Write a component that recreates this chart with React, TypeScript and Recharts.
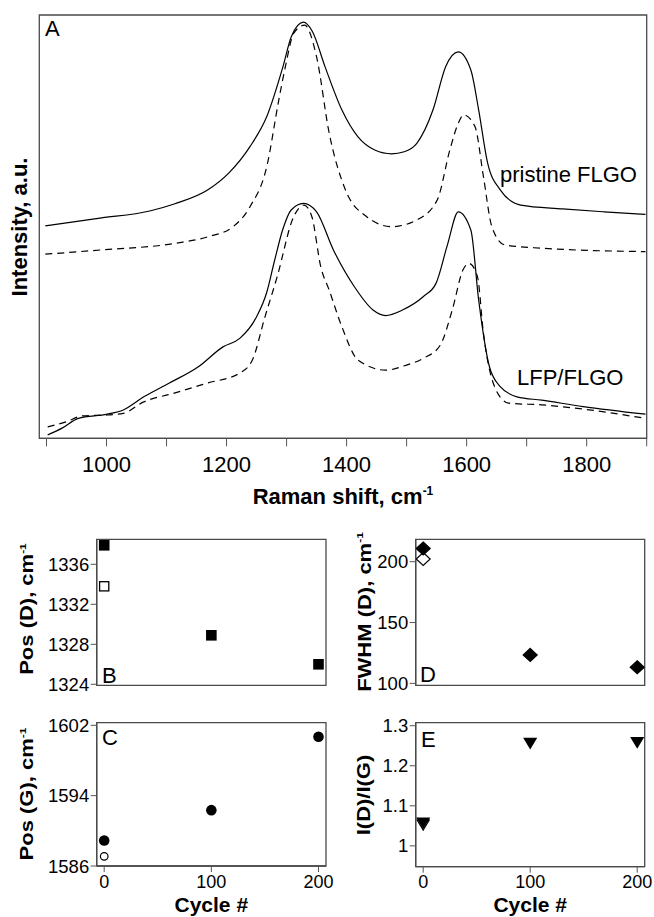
import React from "react"
import { LineChart, Line, ScatterChart, Scatter, XAxis, YAxis, ReferenceArea } from "recharts"

const FONT = '"Liberation Sans", Arial, Helvetica, sans-serif'
const FRAME = "#4a4a4a"
const TICK = "#555"

// panel A spectra: [Raman shift cm-1, intensity a.u.]
const pristineSolid = [
  [898, 50.2], [989, 52.0], [1072, 53.7], [1114, 55.4], [1169, 58.7], [1204, 62.7],
  [1239, 68.9], [1267, 76.0], [1294, 87.8], [1308, 94.9], [1328, 98.3], [1343, 96.1],
  [1364, 87.8], [1392, 77.6], [1419, 71.2], [1447, 68.1], [1475, 67.2], [1496, 67.7],
  [1517, 69.7], [1544, 77.6], [1565, 87.8], [1586, 91.3], [1607, 87.0], [1620, 77.6],
  [1635, 65.0], [1656, 58.7], [1690, 55.1], [1760, 54.2], [1829, 53.5], [1898, 52.9],
]
const pristineDashed = [
  [898, 43.5], [991, 44.5], [1117, 46.1], [1169, 47.6], [1211, 50.0], [1239, 54.7],
  [1267, 64.2], [1287, 79.9], [1298, 87.8], [1312, 95.7], [1330, 97.6], [1350, 90.1],
  [1371, 72.1], [1398, 58.7], [1433, 52.4], [1475, 50.0], [1517, 51.6], [1551, 56.3],
  [1572, 68.1], [1586, 74.4], [1595, 76.4], [1614, 73.6], [1628, 61.8], [1642, 50.0],
  [1663, 45.7], [1725, 44.9], [1898, 44.1],
]
const lfpSolid = [
  [902, 0.8], [926, 2.4], [953, 4.7], [1001, 5.7], [1028, 6.7], [1062, 9.8],
  [1104, 13.0], [1153, 16.9], [1194, 21.6], [1222, 23.6], [1250, 28.7], [1267, 34.5],
  [1280, 42.0], [1294, 49.5], [1308, 54.0], [1328, 55.5], [1350, 53.5], [1378, 44.5],
  [1413, 35.8], [1444, 30.3], [1465, 29.0], [1493, 30.3], [1528, 33.5], [1549, 36.6],
  [1568, 45.7], [1586, 53.5], [1607, 49.2], [1620, 32.7], [1638, 16.9], [1656, 12.2],
  [1684, 9.8], [1725, 9.0], [1794, 7.5], [1898, 5.7],
]
const lfpDashed = [
  [902, 2.7], [933, 3.9], [960, 5.3], [1001, 5.5], [1028, 5.9], [1062, 8.6],
  [1111, 10.6], [1167, 13.0], [1222, 15.4], [1243, 18.5], [1264, 28.7], [1284, 38.0],
  [1312, 52.4], [1329, 55.1], [1342, 52.4], [1357, 40.5], [1371, 35.0], [1392, 26.4],
  [1419, 18.5], [1465, 16.1], [1500, 17.3], [1528, 18.9], [1556, 22.0], [1576, 30.3],
  [1594, 39.8], [1604, 41.3], [1618, 38.2], [1628, 24.8], [1649, 11.4], [1670, 8.3],
  [1725, 7.9], [1794, 6.9], [1898, 4.7],
]
const shiftTicks = [900, 1000, 1100, 1200, 1300, 1400, 1500, 1600, 1700, 1800, 1900]

// panels B-E: fitted peak parameters vs cycle number
const cycles = [0, 100, 200]
const posD = [1337.9, 1328.9, 1326.0]
const posDPristine = [1333.8]
const posG = [1588.9, 1592.35, 1600.7]
const posGPristine = [1587.1]
const fwhmD = [210.8, 123.4, 113.2]
const fwhmDPristine = [202.2]
const ratioDG = [1.057, 1.256, 1.258]
const ratioDGPristine = [1.052]

const cycleTicks = [0, 100, 200]
const posDTicks = [1324, 1328, 1332, 1336]
const posGTicks = [1586, 1594, 1602]
const fwhmTicks = [100, 150, 200]
const ratioTicks = [1, 1.1, 1.2, 1.3]

const shiftDomain = [888, 1900]
const cycleDomain = [-7, 207]

const pts = (rows: number[][]) => rows.map(([x, y]) => ({ x, y }))
const byCycle = (vals: number[]) => vals.map((y, i) => ({ x: cycles[i], y }))

const tickFont = { fill: "#000", fontSize: 18.5, fontFamily: FONT }
const xTickFont = { fill: "#000", fontSize: 18, fontFamily: FONT }
const axisLine = { stroke: FRAME, strokeWidth: 1.3 }

const square = (filled: boolean) => (p: any) =>
  filled ? (
    <rect x={p.cx - 5.3} y={p.cy - 5.3} width={10.6} height={10.6} fill="#000" />
  ) : (
    <rect x={p.cx - 4.6} y={p.cy - 4.6} width={9.2} height={9.2} fill="#fff" stroke="#000" strokeWidth={1.3} />
  )

const circle = (filled: boolean) => (p: any) =>
  filled ? (
    <circle cx={p.cx} cy={p.cy} r={5.3} fill="#000" />
  ) : (
    <circle cx={p.cx} cy={p.cy} r={3.8} fill="#fff" stroke="#000" strokeWidth={1.2} />
  )

const diamond = (filled: boolean) => (p: any) => (
  <polygon
    points={`${p.cx},${p.cy - 6.5} ${p.cx + 7},${p.cy} ${p.cx},${p.cy + 6.5} ${p.cx - 7},${p.cy}`}
    fill={filled ? "#000" : "#fff"}
    stroke="#000"
    strokeWidth={1.2}
  />
)

const triangleDown = (filled: boolean) => (p: any) => (
  <polygon
    points={`${p.cx - 6},${p.cy - 5} ${p.cx + 6},${p.cy - 5} ${p.cx},${p.cy + 5}`}
    fill={filled ? "#000" : "#fff"}
    stroke="#000"
    strokeWidth={1.2}
  />
)

function VLabel({ x, y, squeeze = 1, children }: any) {
  return (
    <text
      transform={`translate(${x},${y}) rotate(-90) scale(1,${squeeze})`}
      textAnchor="middle"
      fontFamily={FONT}
      fontWeight="bold"
      fontSize={22}
      fill="#000"
    >
      {children}
    </text>
  )
}

const Sup = ({ children }: any) => (
  <tspan dy={-9} fontSize={12}>
    {children}
  </tspan>
)

function Panel({ left, top, width, height, margin, yDomain, yTicks, yWidth, yFormat, showX, series }: any) {
  return (
    <div style={{ position: "absolute", left, top }}>
      <ScatterChart width={width} height={height} margin={margin}>
        <XAxis
          dataKey="x"
          type="number"
          domain={cycleDomain}
          ticks={cycleTicks}
          interval={0}
          height={showX ? 40 : 0}
          tick={showX ? xTickFont : false}
          tickLine={showX ? { stroke: TICK } : false}
          tickSize={6}
          tickMargin={3}
          axisLine={axisLine}
          allowDataOverflow
        />
        <YAxis
          dataKey="y"
          type="number"
          domain={yDomain}
          ticks={yTicks}
          interval={0}
          width={yWidth}
          tick={tickFont}
          tickFormatter={yFormat}
          tickLine={{ stroke: TICK }}
          tickSize={6}
          tickMargin={1.5}
          axisLine={axisLine}
          allowDataOverflow
        />
        <ReferenceArea
          x1={cycleDomain[0]} x2={cycleDomain[1]} y1={yDomain[0]} y2={yDomain[1]}
          fill="none" fillOpacity={0} stroke={FRAME} strokeWidth={1.3} ifOverflow="visible"
        />
        {series.map((s: any, i: number) => (
          <Scatter key={i} data={s.data} shape={s.shape} isAnimationActive={false} />
        ))}
      </ScatterChart>
    </div>
  )
}

export default function App() {
  return (
    <div style={{ position: "absolute", left: 0, top: 0, width: 654, height: 917, background: "#fff", fontFamily: FONT }}>
      <div style={{ position: "absolute", left: 0, top: 0 }}>
        <LineChart width={654} height={520} margin={{ top: 15, right: 7.3, left: 39.3, bottom: 11.7 }}>
          <XAxis
            dataKey="x"
            type="number"
            domain={shiftDomain}
            ticks={shiftTicks}
            interval={0}
            height={70}
            tickFormatter={(v: number) => (v % 200 === 0 ? String(v) : "")}
            tick={{ fill: "#000", fontSize: 22, fontFamily: FONT }}
            tickLine={{ stroke: TICK }}
            tickSize={8}
            tickMargin={10}
            axisLine={axisLine}
            allowDataOverflow
          />
          <YAxis type="number" domain={[0, 100]} width={0} tick={false} tickLine={false} axisLine={axisLine} />
          <ReferenceArea
            x1={shiftDomain[0]} x2={shiftDomain[1]} y1={0} y2={100}
            fill="none" fillOpacity={0} stroke={FRAME} strokeWidth={1.3} ifOverflow="visible"
          />
          <Line data={pts(pristineSolid)} dataKey="y" type="monotone" stroke="#000" strokeWidth={1.2} dot={false} isAnimationActive={false} />
          <Line data={pts(pristineDashed)} dataKey="y" type="monotone" stroke="#000" strokeWidth={1.2} strokeDasharray="7 5" dot={false} isAnimationActive={false} />
          <Line data={pts(lfpSolid)} dataKey="y" type="monotone" stroke="#000" strokeWidth={1.2} dot={false} isAnimationActive={false} />
          <Line data={pts(lfpDashed)} dataKey="y" type="monotone" stroke="#000" strokeWidth={1.2} strokeDasharray="7 5" dot={false} isAnimationActive={false} />
        </LineChart>
      </div>

      <Panel
        left={0} top={530} width={330} height={170}
        margin={{ top: 9.3, right: 4, left: 0, bottom: 14.7 }}
        yDomain={[1323.9, 1338.5]} yTicks={posDTicks} yWidth={96.7} showX={false}
        series={[
          { data: byCycle(posDPristine), shape: square(false) },
          { data: byCycle(posD), shape: square(true) },
        ]}
      />
      <Panel
        left={0} top={712} width={342} height={205}
        margin={{ top: 10.7, right: 16, left: 0, bottom: 11 }}
        yDomain={[1586, 1602.3]} yTicks={posGTicks} yWidth={96.7} showX={true}
        series={[
          { data: byCycle(posGPristine), shape: circle(false) },
          { data: byCycle(posG), shape: circle(true) },
        ]}
      />
      <Panel
        left={330} top={530} width={324} height={170}
        margin={{ top: 9.3, right: 9.3, left: 0, bottom: 14.7 }}
        yDomain={[98.4, 218.4]} yTicks={fwhmTicks} yWidth={85.7} showX={false}
        series={[
          { data: byCycle(fwhmDPristine), shape: diamond(false) },
          { data: byCycle(fwhmD), shape: diamond(true) },
        ]}
      />
      <Panel
        left={330} top={712} width={324} height={205}
        margin={{ top: 10.7, right: 9.3, left: 0, bottom: 10.3 }}
        yDomain={[0.948, 1.3075]} yTicks={ratioTicks} yWidth={85.7} showX={true}
        yFormat={(v: number) => (v === 1 ? "1" : v.toFixed(1))}
        series={[
          { data: byCycle(ratioDGPristine), shape: triangleDown(false) },
          { data: byCycle(ratioDG), shape: triangleDown(true) },
        ]}
      />

      <svg width={654} height={917} style={{ position: "absolute", left: 0, top: 0, pointerEvents: "none" }}>
        <g fontFamily={FONT} fontSize={22} fill="#000">
          <text x={45} y={36}>A</text>
          <text x={500} y={182}>pristine FLGO</text>
          <text x={517} y={385}>LFP/FLGO</text>
          <text x={102} y={683}>B</text>
          <text x={102} y={745}>C</text>
          <text x={420} y={682}>D</text>
          <text x={421} y={747}>E</text>
          <text x={343} y={503.5} textAnchor="middle" fontWeight="bold">
            Raman shift, cm<Sup>-1</Sup>
          </text>
          <text x={211.3} y={912} fontSize={21} textAnchor="middle" fontWeight="bold">Cycle #</text>
          <text x={530.2} y={912} fontSize={21} textAnchor="middle" fontWeight="bold">Cycle #</text>
        </g>
        <VLabel x={27.3} y={227}>Intensity, a.u.</VLabel>
        <VLabel x={33.3} y={609} squeeze={0.8}>
          Pos (D), cm<Sup>-1</Sup>
        </VLabel>
        <VLabel x={33.3} y={794} squeeze={0.8}>
          Pos (G), cm<Sup>-1</Sup>
        </VLabel>
        <VLabel x={370.5} y={612} squeeze={0.8}>
          FWHM (D), cm<Sup>-1</Sup>
        </VLabel>
        <VLabel x={369.5} y={795} squeeze={0.8}>
          I(D)/I(G)
        </VLabel>
      </svg>
    </div>
  )
}
